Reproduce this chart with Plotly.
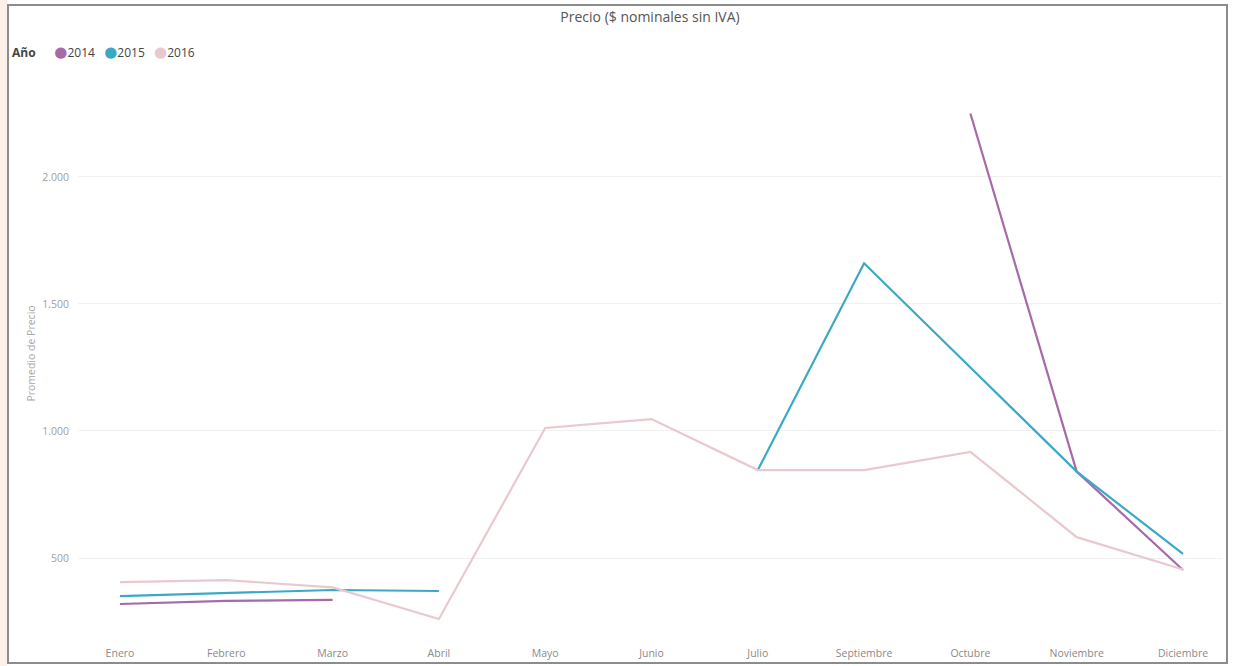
import plotly.graph_objects as go

# ---- data ----
meses = ["Enero", "Febrero", "Marzo", "Abril", "Mayo", "Junio", "Julio",
         "Septiembre", "Octubre", "Noviembre", "Diciembre"]
anios = ["2014", "2015", "2016"]
precio_2014 = [319, 331, 335, None, None, None, None, None, 2250, 840, 453]
precio_2015 = [350, 362, 374, 370, None, None, 846, 1660, 1250, 840, 516]
precio_2016 = [405, 413, 384, 260, 1012, 1047, 846, 846, 918, 582, 455]
y_ticks = [500, 1000, 1500, 2000]
y_tick_text = ["500", "1.000", "1.500", "2.000"]

colores = ["#a66aa9", "#3aa9c6", "#e9c8ce"]
series = [precio_2014, precio_2015, precio_2016]

W, H = 1233, 666
ML, MR, MT, MB = 78, W - 1222, 70, H - 637
PW, PH = W - ML - MR, H - MT - MB


def px2x(px):
    return (px - ML) / PW


def py2y(py):
    return (H - MB - py) / PH


fig = go.Figure()
for anio, vals, col in zip(anios, series, colores):
    fig.add_trace(go.Scatter(
        x=meses, y=vals, mode="lines", name=anio,
        line=dict(color=col, width=2.2), connectgaps=False,
        showlegend=False,
    ))

font = "Open Sans, DejaVu Sans, sans-serif"

fig.update_layout(
    width=W, height=H,
    margin=dict(l=ML, r=MR, t=MT, b=MB),
    paper_bgcolor="white", plot_bgcolor="white",
    separators=",.",
    font=dict(family=font),
    title=dict(text="Precio ($ nominales sin IVA)", x=0.5, xref="paper",
               xanchor="center", y=1 - 17 / H, yanchor="middle",
               font=dict(size=14, color="#555555", family=font)),
    xaxis=dict(
        type="category", range=[(78 - 120) / 106.3, (1222 - 120) / 106.3],
        showgrid=False, zeroline=False, showline=False, ticks="",
        tickfont=dict(size=10.5, color="#8a8a8a", family=font),
        ticklabelstandoff=8, automargin=False,
    ),
    yaxis=dict(
        range=[189, 2421], tickvals=y_ticks, ticktext=y_tick_text,
        showgrid=True, gridcolor="#f0f0f0", gridwidth=1,
        zeroline=False, showline=False, ticks="",
        tickfont=dict(size=10.5, color="#a0a0a0", family=font),
        ticklabelstandoff=8, automargin=False,
        title=dict(text="Promedio de Precio", standoff=4,
                   font=dict(size=10.5, color="#a8a8a8", family=font)),
    ),
    showlegend=False,
)

# legend built from the year list and colours
sp = "&nbsp;"
leg = "<b>Año</b>" + sp * 6 + (sp * 3).join(
    f"<span style='color:{c};font-size:15px'>●</span>{a}"
    for a, c in zip(anios, colores))
fig.add_annotation(text=leg, xref="paper", yref="paper",
                   x=px2x(10), y=py2y(51), xanchor="left", yanchor="middle",
                   showarrow=False, align="left",
                   font=dict(size=12, color="#444444", family=font))

# frame
fig.add_shape(type="rect", xref="paper", yref="paper",
              x0=px2x(0), x1=px2x(7), y0=py2y(H), y1=py2y(0),
              fillcolor="#fcf0e8", line=dict(width=0), layer="below")
fig.add_shape(type="rect", xref="paper", yref="paper",
              x0=px2x(8), x1=px2x(1227), y0=py2y(663), y1=py2y(5),
              line=dict(color="#8c8c8c", width=2), layer="above")

fig.write_html("out.html")
